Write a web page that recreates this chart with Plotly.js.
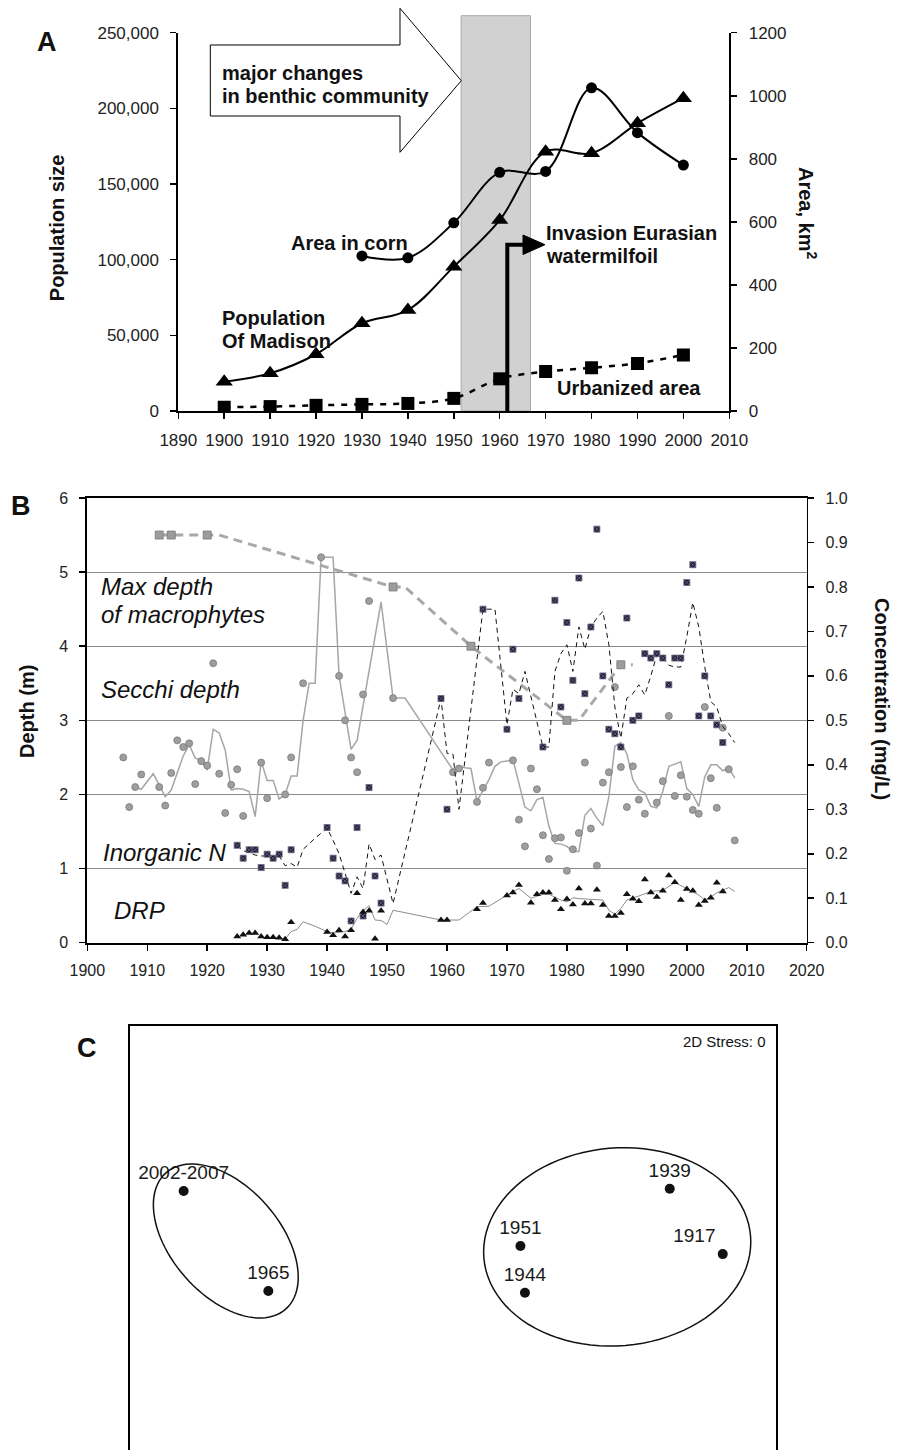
<!DOCTYPE html>
<html><head><meta charset="utf-8">
<script src="https://cdn.plot.ly/plotly-3.0.1.min.js"></script>
<style>html,body{margin:0;padding:0;background:#fff}#chart{width:901px;height:1450px}</style>
</head><body><div id="chart"></div>
<script>
// ---------------- Panel A data ----------------
const censusYears = [1900,1910,1920,1930,1940,1950,1960,1970,1980,1990,2000];
const populationMadison = [19400,24900,37500,58000,66700,95400,126200,171400,170300,190100,206700];
const cornYears = [1930,1940,1950,1960,1970,1980,1990,2000];
const areaInCorn = [492,486,597,757,760,1025,883,780];
const urbanizedArea = [12,14,18,21,24,40,102,125,137,151,178];

// ---------------- Panel B data ----------------
const secchiYears = [1906,1907,1908,1909,1912,1913,1914,1915,1916,1917,1918,1919,1920,1921,1922,1923,1924,1925,1926,1929,1930,1933,1934,1936,1939,1942,1943,1944,1945,1946,1947,1951,1961,1962,1965,1966,1967,1971,1972,1973,1974,1975,1976,1977,1978,1979,1980,1981,1982,1983,1984,1985,1986,1987,1988,1989,1990,1991,1992,1993,1995,1996,1997,1998,1999,2000,2001,2002,2003,2004,2005,2006,2007,2008];
const secchiDepth = [2.50,1.83,2.10,2.27,2.10,1.85,2.29,2.73,2.64,2.69,2.14,2.45,2.39,3.77,2.28,1.75,2.13,2.34,1.71,2.43,1.95,2.00,2.50,3.50,5.20,3.60,3.00,2.50,2.30,3.35,4.61,3.30,2.30,2.35,1.90,2.09,2.43,2.46,1.66,1.30,2.35,2.07,1.45,1.13,1.41,1.42,0.97,1.26,1.48,2.43,1.54,1.04,2.16,2.30,3.45,2.37,1.83,2.38,1.93,1.74,1.89,2.18,3.06,1.98,2.26,1.97,1.79,1.74,3.18,2.22,1.82,2.90,2.34,1.38];
const secchiAvgYears = [1908,1909,1911,1913,1914,1916,1917,1918,1919,1920,1921,1922,1923,1924,1925,1926,1927,1928,1929,1930,1931,1932,1933,1934,1935,1936,1937,1938,1939,1941,1942,1943,1944,1945,1949,1951,1953,1961,1962,1963,1964,1965,1966,1967,1968,1969,1970,1971,1972,1973,1974,1975,1976,1977,1978,1979,1980,1981,1982,1983,1984,1985,1986,1987,1988,1989,1990,1991,1992,1993,1994,1995,1996,1997,1998,1999,2000,2001,2002,2003,2004,2005,2006,2007,2008];
const secchiAvg = [2.10,2.07,2.28,1.97,2.06,2.52,2.67,2.49,2.46,2.33,2.88,2.83,2.60,2.06,2.08,2.07,2.04,1.70,2.45,2.19,2.19,1.94,2.00,2.25,2.25,3.00,3.50,3.50,5.20,5.20,3.60,3.10,2.61,2.73,4.60,3.30,3.30,2.33,2.38,2.36,2.35,1.91,2.06,2.20,2.38,2.44,2.45,2.47,2.15,1.83,1.78,1.93,1.96,1.57,1.34,1.33,1.30,1.23,1.23,1.72,1.81,1.68,1.58,1.97,2.65,2.70,2.55,2.20,2.06,2.02,1.84,1.82,2.04,2.38,2.41,2.44,2.08,2.00,1.84,2.24,2.40,2.40,2.32,2.36,2.22];
const macroYears = [1912,1914,1920,1951,1964,1980,1989];
const macroDepth = [5.5,5.5,5.5,4.8,4.0,3.0,3.75];
const macroLineYears = [1912,1922,1951,1953,1964,1980,1982,1989,1991];
const macroLineDepth = [5.5,5.5,4.8,4.8,4.0,3.0,3.0,3.75,3.75];
const nYears = [1925,1926,1927,1928,1929,1930,1931,1932,1933,1934,1940,1941,1942,1943,1944,1945,1946,1947,1948,1949,1959,1960,1966,1970,1971,1972,1976,1978,1979,1980,1981,1982,1983,1984,1985,1986,1987,1988,1989,1990,1991,1992,1993,1994,1995,1996,1997,1998,1999,2000,2001,2002,2003,2004,2005,2006];
const nConc = [0.219,0.19,0.209,0.209,0.169,0.199,0.19,0.199,0.129,0.209,0.259,0.19,0.15,0.139,0.049,0.259,0.06,0.349,0.15,0.089,0.549,0.30,0.75,0.48,0.66,0.549,0.44,0.77,0.53,0.72,0.59,0.82,0.56,0.71,0.93,0.60,0.48,0.47,0.44,0.73,0.50,0.51,0.65,0.64,0.65,0.64,0.58,0.64,0.64,0.81,0.85,0.51,0.60,0.51,0.49,0.45];
const nAvgYears = [1925,1926,1927,1928,1929,1930,1931,1932,1933,1934,1935,1936,1938,1940,1941,1942,1943,1944,1945,1946,1947,1948,1949,1951,1959,1960,1961,1962,1966,1968,1970,1971,1972,1973,1976,1977,1978,1979,1980,1981,1982,1983,1984,1985,1986,1987,1988,1989,1990,1991,1992,1993,1994,1995,1996,1997,1998,1999,2000,2001,2002,2003,2004,2005,2006,2007,2008];
const nAvg = [0.219,0.207,0.203,0.197,0.195,0.195,0.19,0.195,0.173,0.178,0.170,0.210,0.235,0.258,0.23,0.20,0.156,0.111,0.148,0.122,0.222,0.187,0.197,0.088,0.549,0.426,0.424,0.30,0.75,0.75,0.49,0.57,0.56,0.61,0.44,0.44,0.61,0.65,0.67,0.61,0.71,0.66,0.71,0.73,0.745,0.67,0.53,0.46,0.55,0.56,0.58,0.557,0.60,0.647,0.64,0.624,0.62,0.62,0.688,0.765,0.71,0.62,0.542,0.53,0.486,0.47,0.45];
const drpYears = [1925,1926,1927,1928,1929,1930,1931,1932,1933,1934,1940,1941,1942,1943,1944,1945,1946,1947,1948,1949,1959,1960,1965,1966,1970,1971,1972,1974,1975,1976,1977,1978,1979,1980,1981,1982,1983,1984,1985,1986,1987,1988,1989,1990,1991,1992,1993,1994,1995,1996,1997,1998,1999,2000,2001,2002,2003,2004,2005,2006];
const drpConc = [0.014,0.018,0.022,0.022,0.014,0.012,0.012,0.011,0.008,0.046,0.024,0.017,0.028,0.014,0.028,0.111,0.069,0.072,0.009,0.072,0.051,0.051,0.075,0.089,0.106,0.113,0.13,0.09,0.109,0.113,0.113,0.096,0.075,0.098,0.086,0.122,0.088,0.088,0.119,0.085,0.06,0.06,0.067,0.109,0.099,0.093,0.142,0.113,0.103,0.117,0.151,0.136,0.096,0.121,0.117,0.085,0.094,0.101,0.135,0.115];
const drpAvgYears = [1930,1931,1932,1933,1934,1935,1936,1938,1940,1941,1942,1943,1944,1945,1946,1947,1948,1949,1950,1951,1959,1962,1965,1967,1970,1972,1974,1976,1977,1979,1980,1981,1982,1985,1986,1987,1988,1989,1990,1992,1994,1996,1998,2000,2002,2003,2004,2005,2006,2007,2008];
const drpAvg = [0.012,0.012,0.011,0.008,0.025,0.030,0.047,0.037,0.025,0.022,0.024,0.025,0.030,0.055,0.072,0.083,0.051,0.050,0.041,0.073,0.051,0.051,0.081,0.082,0.107,0.122,0.100,0.109,0.109,0.096,0.092,0.101,0.099,0.098,0.096,0.073,0.064,0.077,0.096,0.105,0.115,0.118,0.135,0.122,0.107,0.096,0.103,0.112,0.118,0.124,0.115];

// ---------------- Panel C data (ordination scores, arbitrary units) ----------------
const nmdsLabels = ['2002-2007','1965','1951','1944','1939','1917'];
const nmdsX = [8.3,21.4,60.4,61.1,83.5,91.7];
const nmdsY = [61.1,37.5,48.1,37.1,61.6,46.2];

// ---------------- helpers ----------------
const W = 901, H = 1450;
const X = p => p / W, Y = p => 1 - p / H;
const FONT = 'Liberation Sans, Arial, Helvetica, sans-serif';
function pathFrom(pts, close) {
  return pts.map((p, i) => (i ? 'L' : 'M') + X(p[0]).toFixed(5) + ',' + Y(p[1]).toFixed(5)).join(' ') + (close ? ' Z' : '');
}
function ellipsePts(cx, cy, a, b, deg) {
  const th = deg * Math.PI / 180, pts = [];
  for (let i = 0; i <= 96; i++) {
    const t = i / 96 * 2 * Math.PI;
    pts.push([cx + a * Math.cos(t) * Math.cos(th) - b * Math.sin(t) * Math.sin(th),
              cy + a * Math.cos(t) * Math.sin(th) + b * Math.sin(t) * Math.cos(th)]);
  }
  return pts;
}
function ann(text, x, y, o) {
  o = o || {};
  return Object.assign({
    text: text, xref: 'paper', yref: 'paper', x: X(x), y: Y(y), showarrow: false,
    xanchor: o.xa || 'left', yanchor: 'middle', textangle: o.angle || 0,
    font: {family: FONT, size: o.size || 20, color: o.color || '#111', weight: o.weight || 'normal', style: o.style || 'normal'}
  }, o.extra || {});
}

const black = '#000';
const traces = [
  // Panel A
  {x: censusYears, y: populationMadison, xaxis: 'x', yaxis: 'y', mode: 'lines+markers',
   line: {color: black, width: 2, shape: 'spline', smoothing: 1}, marker: {symbol: 'triangle-up', size: 15, color: black}},
  {x: cornYears, y: areaInCorn, xaxis: 'x', yaxis: 'y2', mode: 'lines+markers',
   line: {color: black, width: 2, shape: 'spline', smoothing: 1}, marker: {symbol: 'circle', size: 11, color: black}},
  {x: censusYears, y: urbanizedArea, xaxis: 'x', yaxis: 'y2', mode: 'lines+markers',
   line: {color: black, width: 2.5, dash: '6px,7px', shape: 'spline', smoothing: 1}, marker: {symbol: 'square', size: 13, color: black}},
  // Panel B
  {x: macroLineYears, y: macroLineDepth, xaxis: 'x2', yaxis: 'y3', mode: 'lines',
   line: {color: '#a8a8a8', width: 3, dash: '9px,6px'}},
  {x: macroYears, y: macroDepth, xaxis: 'x2', yaxis: 'y3', mode: 'markers',
   marker: {symbol: 'square', size: 8, color: '#9c9c9c', line: {color: '#777', width: 0.8}}},
  {x: secchiAvgYears, y: secchiAvg, xaxis: 'x2', yaxis: 'y3', mode: 'lines',
   line: {color: '#a6a6a6', width: 1.5}},
  {x: secchiYears, y: secchiDepth, xaxis: 'x2', yaxis: 'y3', mode: 'markers',
   marker: {symbol: 'circle', size: 7, color: '#9e9e9e', line: {color: '#7a7a7a', width: 0.8}}},
  {x: nAvgYears, y: nAvg, xaxis: 'x2', yaxis: 'y4', mode: 'lines',
   line: {color: '#111', width: 1, dash: '5px,4px'}},
  {x: nYears, y: nConc, xaxis: 'x2', yaxis: 'y4', mode: 'markers',
   marker: {symbol: 'square-x', size: 6, color: '#1e1a30', line: {color: '#6c6888', width: 0.8}}},
  {x: drpAvgYears, y: drpAvg, xaxis: 'x2', yaxis: 'y4', mode: 'lines',
   line: {color: '#8c8c8c', width: 1}},
  {x: drpYears, y: drpConc, xaxis: 'x2', yaxis: 'y4', mode: 'markers',
   marker: {symbol: 'triangle-up', size: 7, color: '#111'}},
  // Panel C
  {x: nmdsX, y: nmdsY, xaxis: 'x3', yaxis: 'y5', mode: 'markers+text', text: nmdsLabels,
   textposition: ['top center','top center','top center','top center','top center','top left'],
   textfont: {family: FONT, size: 19, color: '#1a1a1a'},
   marker: {symbol: 'circle', size: 10, color: '#111'}}
];

const axBase = {showgrid: false, zeroline: false, showline: true, linecolor: black, linewidth: 2,
  ticks: 'outside', ticklen: 6, tickwidth: 1.5, tickcolor: black};
const tfA = {family: FONT, size: 17, color: '#222'};
const tfB = {family: FONT, size: 16, color: '#222'};

const layout = {
  width: W, height: H, margin: {l: 0, r: 0, t: 0, b: 0},
  paper_bgcolor: '#fff', plot_bgcolor: 'rgba(0,0,0,0)', showlegend: false,
  xaxis: Object.assign({}, axBase, {domain: [X(178.3), X(729.3)], range: [1890, 2010], tick0: 1890, dtick: 10,
    anchor: 'y', tickfont: tfA, ticklabelstandoff: 7}),
  yaxis: Object.assign({}, axBase, {domain: [Y(411), Y(32.7)], range: [0, 250000], dtick: 50000, tickformat: ',d',
    anchor: 'x', tickfont: tfA, ticklabelstandoff: 8}),
  yaxis2: Object.assign({}, axBase, {overlaying: 'y', side: 'right', range: [0, 1200], dtick: 200,
    anchor: 'x', tickfont: tfA, ticklabelstandoff: 8}),
  xaxis2: Object.assign({}, axBase, {domain: [X(87.3), X(806.7)], range: [1900, 2020], tick0: 1900, dtick: 10,
    anchor: 'y3', mirror: true, tickfont: tfB, ticklabelstandoff: 6}),
  yaxis3: Object.assign({}, axBase, {domain: [Y(942.7), Y(498)], range: [0, 6], dtick: 1, anchor: 'x2',
    showgrid: true, gridcolor: '#8a8a8a', gridwidth: 1, tickfont: tfB, ticklabelstandoff: 8}),
  yaxis4: Object.assign({}, axBase, {overlaying: 'y3', side: 'right', range: [0, 1], dtick: 0.1, tickformat: '.1f',
    anchor: 'x2', linewidth: 1.5, tickfont: tfB, ticklabelstandoff: 8}),
  xaxis3: Object.assign({}, axBase, {domain: [X(130), X(776.4)], range: [0, 100], anchor: 'y5', side: 'top',
    ticks: '', showticklabels: false}),
  yaxis5: Object.assign({}, axBase, {domain: [0, Y(1026)], range: [0, 100], anchor: 'x3', mirror: true,
    ticks: '', showticklabels: false}),
  shapes: [
    {type: 'rect', xref: 'x', yref: 'paper', x0: 1951.6, x1: 1966.7, y0: Y(411), y1: Y(15.7),
     fillcolor: '#d0d1d0', line: {color: '#a8a8a8', width: 1}, layer: 'below'},
    {type: 'path', xref: 'paper', yref: 'paper', fillcolor: '#fff', line: {color: black, width: 1},
     path: pathFrom([[210.3,45],[400,45],[400,8.3],[461.3,80.7],[400,152.3],[400,116],[210.3,116]], true)},
    {type: 'path', xref: 'paper', yref: 'paper', line: {color: black, width: 4},
     path: pathFrom([[507.3,411],[507.3,244.7],[525,244.7]], false)},
    {type: 'path', xref: 'paper', yref: 'paper', fillcolor: black, line: {color: black, width: 1},
     path: pathFrom([[523,235],[545,244.7],[523,254.5]], true)},
    {type: 'path', xref: 'paper', yref: 'paper', line: {color: '#111', width: 1.5},
     path: pathFrom(ellipsePts(225.8, 1241, 90.7, 54.3, 48.7), true)},
    {type: 'path', xref: 'paper', yref: 'paper', line: {color: '#111', width: 1.5},
     path: pathFrom(ellipsePts(617.2, 1246.9, 133.8, 98.9, -4.8), true)}
  ],
  annotations: [
    ann('A', 47, 42, {size: 27, weight: 'bold', xa: 'center'}),
    ann('major changes', 220, 72.5, {weight: 'bold'}),
    ann('in benthic community', 220, 96, {weight: 'bold'}),
    ann('Area in corn', 289.3, 243, {weight: 'bold'}),
    ann('Population', 220, 318, {weight: 'bold'}),
    ann('Of Madison', 220, 341, {weight: 'bold'}),
    ann('Invasion Eurasian', 544, 233, {weight: 'bold'}),
    ann('watermilfoil', 544, 256, {weight: 'bold'}),
    ann('Urbanized area', 555.3, 388, {weight: 'bold'}),
    ann('Population size', 56.7, 227.5, {weight: 'bold', angle: -90, xa: 'center'}),
    ann('Area, km<sup>2</sup>', 808, 213, {weight: 'bold', angle: 90, xa: 'center'}),
    ann('B', 21, 506, {size: 27, weight: 'bold', xa: 'center'}),
    ann('Max depth', 99, 586.5, {size: 24, style: 'italic'}),
    ann('of macrophytes', 99, 614.5, {size: 24, style: 'italic'}),
    ann('Secchi depth', 99, 689.7, {size: 24, style: 'italic'}),
    ann('Inorganic N', 100.7, 852, {size: 24, style: 'italic'}),
    ann('DRP', 112, 910.7, {size: 24, style: 'italic'}),
    ann('Depth (m)', 27, 712, {weight: 'bold', angle: -90, xa: 'center'}),
    ann('Concentration (mg/L)', 882, 699, {weight: 'bold', angle: 90, xa: 'center'}),
    ann('C', 86.7, 1048, {size: 27, weight: 'bold', xa: 'center'}),
    ann('2D Stress: 0', 767.7, 1041, {size: 15, xa: 'right'})
  ]
};

Plotly.newPlot('chart', traces, layout, {displayModeBar: false, staticPlot: true});
</script></body></html>
